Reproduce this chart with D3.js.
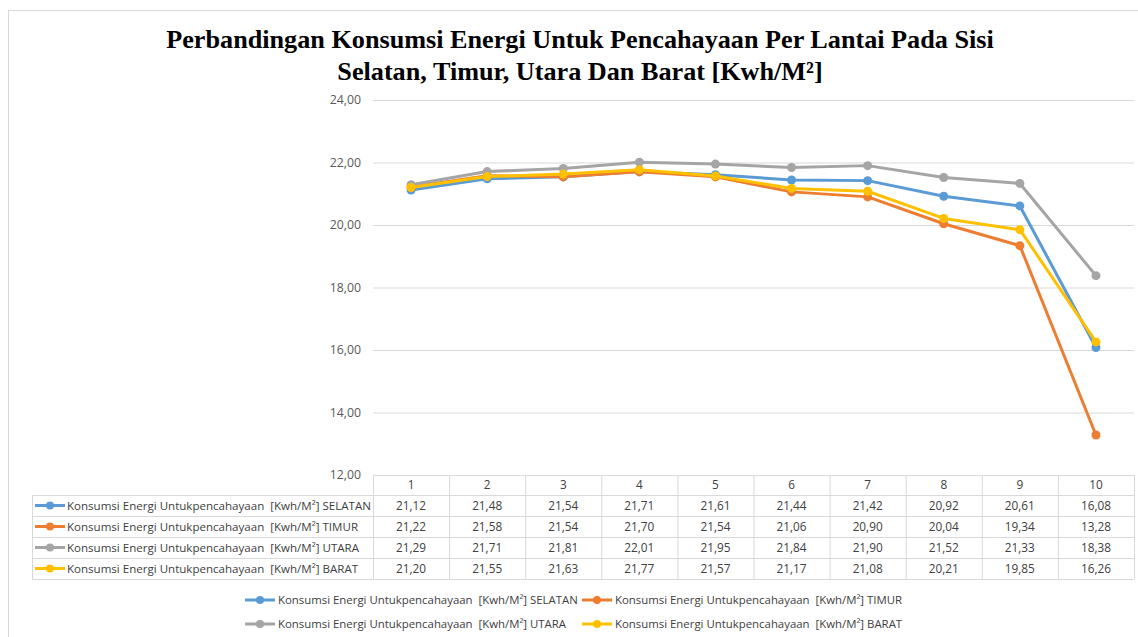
<!DOCTYPE html>
<html>
<head>
<meta charset="utf-8">
<script src="https://cdn.jsdelivr.net/npm/d3@7"></script>
<style>
  body { margin: 0; background: #fff; }
  text { white-space: pre; }
</style>
</head>
<body>
<svg id="chart" width="1138" height="637"></svg>
<script>
const categories = ["1","2","3","4","5","6","7","8","9","10"];
const seriesNames = [
  "Konsumsi Energi Untukpencahayaan  [Kwh/M²] SELATAN",
  "Konsumsi Energi Untukpencahayaan  [Kwh/M²] TIMUR",
  "Konsumsi Energi Untukpencahayaan  [Kwh/M²] UTARA",
  "Konsumsi Energi Untukpencahayaan  [Kwh/M²] BARAT"
];
const selatan = [21.12, 21.48, 21.54, 21.71, 21.61, 21.44, 21.42, 20.92, 20.61, 16.08];
const timur   = [21.22, 21.58, 21.54, 21.70, 21.54, 21.06, 20.90, 20.04, 19.34, 13.28];
const utara   = [21.29, 21.71, 21.81, 22.01, 21.95, 21.84, 21.90, 21.52, 21.33, 18.38];
const barat   = [21.20, 21.55, 21.63, 21.77, 21.57, 21.17, 21.08, 20.21, 19.85, 16.26];
const yTicks = [12, 14, 16, 18, 20, 22, 24];
const colors = ["#5B9BD5", "#ED7D31", "#A5A5A5", "#FFC000"];
const titleLines = [
  "Perbandingan Konsumsi Energi Untuk Pencahayaan Per Lantai Pada Sisi",
  "Selatan, Timur, Utara Dan Barat [Kwh/M²]"
];

(function () {
const series = [selatan, timur, utara, barat].map((v, i) => ({name: seriesNames[i], values: v, color: colors[i]}));
const fmt = v => d3.format(".2f")(v).replace(".", ",");

const svg = d3.select("#chart");
const font = "'Open Sans', 'Noto Sans', sans-serif";

// outer frame
svg.append("rect").attr("x", 8.5).attr("y", 10.5).attr("width", 1140).attr("height", 640)
  .attr("fill", "#fff").attr("stroke", "#d9d9d9").attr("stroke-width", 1);

// title
svg.append("g").selectAll("text").data(titleLines).join("text")
  .attr("x", 580).attr("y", (d, i) => 48 + i * 32)
  .attr("text-anchor", "middle")
  .attr("font-family", "'Liberation Serif', 'Times New Roman', serif")
  .attr("font-weight", "bold").attr("font-size", 26.2).attr("fill", "#000")
  .text(d => d);

const pLeft = 373, pRight = 1134, pTop = 100, pBottom = 475;
const x = d3.scaleBand().domain(categories).range([pLeft, pRight]).padding(0);
const y = d3.scaleLinear().domain([12, 24]).range([pBottom, pTop]);

// y axis with gridlines
const yAxis = svg.append("g").attr("transform", `translate(${pLeft},0)`)
  .call(d3.axisLeft(y).tickValues(yTicks).tickSize(-(pRight - pLeft)).tickPadding(12).tickFormat(fmt));
yAxis.select(".domain").remove();
yAxis.selectAll(".tick line").attr("stroke", "#d9d9d9").attr("stroke-width", 1);
yAxis.selectAll(".tick text").attr("font-family", font).attr("font-size", 12.3).attr("fill", "#595959");

// lines
const line = d3.line().x((d, i) => x(categories[i]) + x.bandwidth() / 2).y(d => y(d));
const gSeries = svg.append("g");
series.forEach(s => {
  gSeries.append("path").datum(s.values).attr("d", line)
    .attr("fill", "none").attr("stroke", s.color).attr("stroke-width", 3).attr("stroke-linejoin", "round");
  gSeries.append("g").selectAll("circle").data(s.values).join("circle")
    .attr("cx", (d, i) => x(categories[i]) + x.bandwidth() / 2).attr("cy", d => y(d))
    .attr("r", 4.5).attr("fill", s.color);
});

// data table
const rowH = 21, headTop = 475, headBot = 495, tableLeft = 32;
const table = svg.append("g");
const gridCol = "#d9d9d9";
table.append("line").attr("x1", pLeft).attr("x2", pRight).attr("y1", headTop + 0.5).attr("y2", headTop + 0.5).attr("stroke", gridCol);
d3.range(series.length + 1).forEach(r => {
  const yy = headBot + r * rowH + 0.5;
  table.append("line").attr("x1", tableLeft).attr("x2", pRight).attr("y1", yy).attr("y2", yy).attr("stroke", gridCol);
});
categories.concat(["end"]).forEach((c, i) => {
  const xx = (i < categories.length ? x(c) : pRight) + 0.5;
  table.append("line").attr("x1", xx).attr("x2", xx).attr("y1", headTop).attr("y2", headBot + series.length * rowH)
    .attr("stroke", gridCol);
});
table.append("line").attr("x1", tableLeft + 0.5).attr("x2", tableLeft + 0.5).attr("y1", headBot).attr("y2", headBot + series.length * rowH).attr("stroke", gridCol);

table.append("g").selectAll("text").data(categories).join("text")
  .attr("x", d => x(d) + x.bandwidth() / 2).attr("y", (headTop + headBot) / 2 + 4)
  .attr("text-anchor", "middle").attr("font-family", font).attr("font-size", 11.8).attr("fill", "#404040")
  .text(d => d);

function legendKey(g, cx, cy, color) {
  g.append("line").attr("x1", cx - 15).attr("x2", cx + 15).attr("y1", cy).attr("y2", cy)
    .attr("stroke", color).attr("stroke-width", 3);
  g.append("circle").attr("cx", cx).attr("cy", cy).attr("r", 4).attr("fill", color);
}

series.forEach((s, r) => {
  const cy = headBot + r * rowH + rowH / 2;
  legendKey(table, 50, cy, s.color);
  table.append("text").attr("x", 67).attr("y", cy + 4)
    .attr("font-family", font).attr("font-size", 11.55).attr("fill", "#404040").text(s.name);
  table.append("g").selectAll("text").data(s.values).join("text")
    .attr("x", (d, i) => x(categories[i]) + x.bandwidth() / 2).attr("y", cy + 4)
    .attr("text-anchor", "middle").attr("font-family", font).attr("font-size", 11.8).attr("fill", "#404040")
    .text(d => fmt(d));
});

const legendPos = [[260, 600], [597, 600], [260, 624], [597, 624]];
const legend = svg.append("g");
series.forEach((s, i) => {
  const [lx, ly] = legendPos[i];
  legendKey(legend, lx, ly, s.color);
  legend.append("text").attr("x", lx + 18).attr("y", ly + 4)
    .attr("font-family", font).attr("font-size", 11.4).attr("fill", "#404040").text(s.name);
});
})();
</script>
</body>
</html>
